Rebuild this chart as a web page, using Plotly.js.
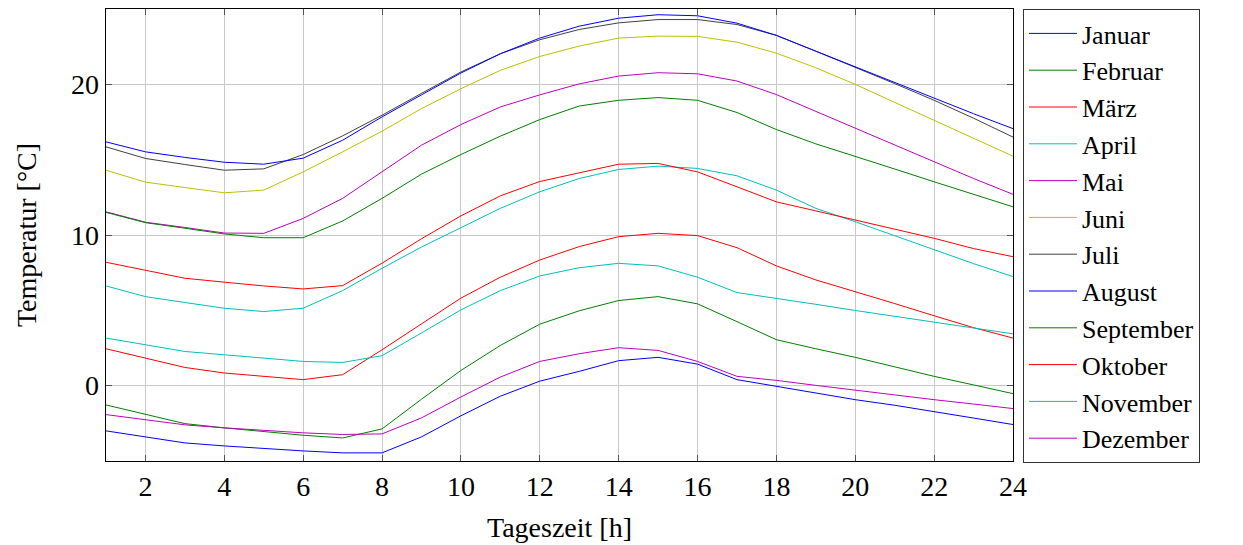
<!DOCTYPE html>
<html>
<head>
<meta charset="utf-8">
<script src="https://cdn.plot.ly/plotly-3.0.1.min.js"></script>
<style>html,body{margin:0;padding:0;background:#fff;}#chart{width:1243px;height:545px;}</style>
</head>
<body>
<div id="chart"></div>
<script>
const hours = [1,2,3,4,5,6,7,8,9,10,11,12,13,14,15,16,17,18,19,20,21,22,23,24];
const months = ["Januar","Februar","März","April","Mai","Juni","Juli","August","September","Oktober","November","Dezember"];
const januar    = [-3.0,-3.4,-3.8,-4.0,-4.18,-4.33,-4.46,-4.46,-3.4,-2.0,-0.7,0.3,0.95,1.66,1.88,1.43,0.4,-0.04,-0.5,-0.93,-1.3,-1.7,-2.15,-2.58];
const februar   = [-1.28,-1.88,-2.52,-2.8,-3.05,-3.29,-3.47,-2.87,-0.9,1.01,2.67,4.08,4.97,5.65,5.91,5.43,4.25,3.05,2.45,1.88,1.25,0.62,0.05,-0.53];
const maerz     = [2.45,1.83,1.21,0.84,0.6,0.4,0.73,2.38,4.1,5.81,7.2,8.34,9.23,9.89,10.11,9.96,9.16,7.95,7.02,6.25,5.45,4.64,3.85,3.16];
const april     = [6.62,5.91,5.52,5.14,4.92,5.14,6.31,7.79,9.2,10.48,11.77,12.87,13.75,14.35,14.57,14.42,13.93,12.98,11.77,10.88,9.95,9.0,8.1,7.24];
const mai       = [11.54,10.85,10.5,10.13,10.11,11.1,12.43,14.2,15.96,17.33,18.5,19.3,20.03,20.55,20.77,20.7,20.22,19.32,18.2,17.1,15.97,14.85,13.75,12.7];
const juni      = [14.3,13.51,13.15,12.8,12.98,14.19,15.52,16.89,18.39,19.71,20.93,21.85,22.54,23.07,23.2,23.18,22.8,22.07,21.1,20.0,18.8,17.62,16.4,15.23];
const juli      = [15.85,15.08,14.68,14.3,14.39,15.34,16.58,17.95,19.4,20.82,22.03,22.96,23.64,24.08,24.3,24.3,23.97,23.25,22.2,21.15,20.05,18.94,17.75,16.5];
const august    = [16.18,15.52,15.15,14.83,14.7,15.1,16.29,17.84,19.3,20.75,22.03,23.07,23.86,24.39,24.62,24.55,24.06,23.25,22.2,21.15,20.1,19.05,18.05,17.06];
const september = [11.5,10.82,10.45,10.07,9.82,9.82,10.93,12.43,14.04,15.34,16.56,17.66,18.56,18.94,19.12,18.94,18.13,17.0,16.05,15.23,14.38,13.53,12.7,11.87];
const oktober   = [8.19,7.68,7.13,6.87,6.62,6.42,6.64,8.13,9.75,11.27,12.6,13.55,14.15,14.7,14.75,14.19,13.2,12.2,11.6,10.99,10.4,9.78,9.1,8.56];
const november  = [3.16,2.72,2.27,2.05,1.83,1.61,1.54,1.99,3.5,5.03,6.31,7.28,7.83,8.12,7.95,7.2,6.18,5.81,5.4,4.99,4.59,4.19,3.8,3.44];
const dezember  = [-1.92,-2.25,-2.6,-2.8,-2.97,-3.13,-3.24,-3.2,-2.14,-0.75,0.57,1.61,2.12,2.52,2.34,1.61,0.62,0.35,0.02,-0.31,-0.62,-0.93,-1.22,-1.52];
const series = [januar,februar,maerz,april,mai,juni,juli,august,september,oktober,november,dezember];
const colors = ["#0000ff","#008000","#ff0000","#00bfbf","#bf00bf","#bfbf00","#404040","#0000ff","#008000","#ff0000","#00bfbf","#bf00bf"];
const xTicks = [2,4,6,8,10,12,14,16,18,20,22,24];
const yTicks = [0,10,20];

const FONT = "'Liberation Serif', 'Times New Roman', serif";
const traces = months.map((m,i)=>({
  x: hours, y: series[i], name: m, type: "scatter", mode: "lines",
  line: {color: colors[i], width: 1}
}));

const axisCommon = {
  showline: true, linecolor: "#000", linewidth: 1.3, mirror: "allticks",
  ticks: "inside", ticklen: 6, tickcolor: "#555", tickwidth: 1,
  showgrid: true, gridcolor: "#c8c8c8", gridwidth: 1, zeroline: false,
  tickfont: {family: FONT, size: 28, color: "#000"}
};

const layout = {
  width: 1243, height: 545,
  margin: {l: 106, r: 230, t: 9, b: 84},
  paper_bgcolor: "#fff", plot_bgcolor: "#fff",
  font: {family: FONT, size: 28, color: "#000"},
  xaxis: Object.assign({}, axisCommon, {
    range: [1,24], tickvals: xTicks, ticktext: xTicks.map(String),
    title: {text: "Tageszeit [h]", font: {family: FONT, size: 28}, standoff: 16}
  }),
  yaxis: Object.assign({}, axisCommon, {
    range: [-5,25], tickvals: yTicks, ticktext: yTicks.map(String),
    title: {text: "Temperatur [°C]", font: {family: FONT, size: 28}, standoff: 26}
  }),
  showlegend: true,
  legend: {
    x: 1.011, xanchor: "left", y: 1, yanchor: "top",
    bordercolor: "#333", borderwidth: 1, bgcolor: "#fff",
    font: {family: FONT, size: 26, color: "#000"},
    tracegroupgap: 0, itemwidth: 48, maxheight: 540
  }
};

Plotly.newPlot("chart", traces, layout, {staticPlot: true, displayModeBar: false});
</script>
</body>
</html>
